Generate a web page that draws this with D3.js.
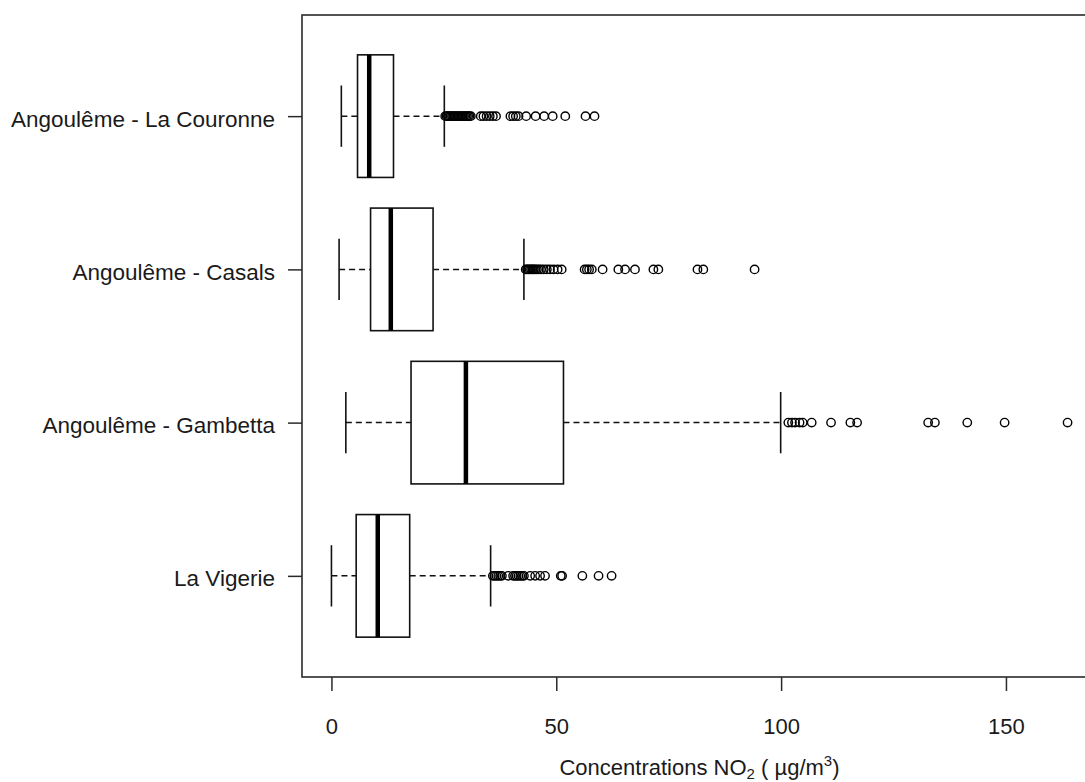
<!DOCTYPE html>
<html>
<head>
<meta charset="utf-8">
<script src="https://cdn.jsdelivr.net/npm/d3@7"></script>
<style>
  body { margin: 0; background: #fff; }
  text { font-family: "Liberation Sans", Arial, sans-serif; fill: #1a1a1a; }
</style>
</head>
<body>
<div id="chart"></div>
<script>
// Frame size and plot region (R style boxplot, right edge runs off the picture)
const FRAME_WIDTH = 1085;
const FRAME_HEIGHT = 782;
const PLOT = {left: 302, right: 1097, top: 15, bottom: 677};

// Stations, bottom to top
const STATIONS = ["La Vigerie", "Angoulême - Gambetta", "Angoulême - Casals", "Angoulême - La Couronne"];

// Five number summaries
const WHISK_LO = [0, 3.2, 1.7, 2.2];
const Q1 = [5.5, 17.7, 8.7, 5.8];
const MEDIAN = [10.3, 29.9, 13.2, 8.4];
const Q3 = [17.4, 51.6, 22.6, 13.8];
const WHISK_HI = [35.4, 99.9, 42.8, 25.1];

// Outliers for each station
const OUT_VIGERIE = [35.9, 36.3, 36.7, 37.1, 37.5, 37.9, 39.3, 40.4, 40.8, 41.2, 41.6, 42.0, 42.4, 42.8,
                     44.2, 45.3, 46.4, 47.5, 51.0, 51.3, 55.8, 59.4, 62.3];
const OUT_GAMBETTA = [101.6, 102.4, 103.1, 104.1, 104.8, 106.8, 111.1, 115.4, 116.9, 132.7, 134.2,
                      141.4, 149.7, 163.7];
const OUT_CASALS = [43.2, 43.5, 43.8, 44.1, 44.4, 44.7, 45.0, 45.3, 45.7, 46.1, 46.6, 47.2, 47.9, 48.6,
                    49.4, 50.3, 51.2, 56.3, 56.8, 57.3, 57.9, 60.3, 63.8, 65.3, 67.5, 71.6, 72.7,
                    81.4, 82.7, 94.1];
const OUT_COURONNE = [25.3, 25.6, 25.9, 26.2, 26.5, 26.8, 27.1, 27.4, 27.7, 28.0, 28.3, 28.6, 28.9,
                      29.2, 29.5, 29.8, 30.1, 30.4, 30.7, 31.0, 33.2, 33.8, 34.5, 35.2, 35.9, 36.6,
                      39.8, 40.4, 41.0, 41.6, 43.3, 45.4, 47.3, 49.2, 52.0, 56.5, 58.5];
const OUTLIERS = [OUT_VIGERIE, OUT_GAMBETTA, OUT_CASALS, OUT_COURONNE];

const X_TICKS = [0, 50, 100, 150];

// Build svg
const SVG = d3.select("#chart")
              .append("svg")
                .attr("width", FRAME_WIDTH)
                .attr("height", FRAME_HEIGHT);

// x range padded by 4% like R does
const allVals = WHISK_LO.concat(WHISK_HI, ...OUTLIERS);
const lo = d3.min(allVals), hi = d3.max(allVals);
const pad = (hi - lo) * 0.04;

const X_SCALE = d3.scaleLinear()
    .domain([lo - pad, hi + pad])
    .range([PLOT.left, PLOT.right]);

// boxes sit at 1..n, limits [0.5, n+0.5] padded by 4%
const n = STATIONS.length;
const yPad = n * 0.04;
const Y_SCALE = d3.scaleLinear()
    .domain([0.5 - yPad, n + 0.5 + yPad])
    .range([PLOT.bottom, PLOT.top]);

const half = Y_SCALE(0) - Y_SCALE(0.4);    // half box width
const cap = half / 2;                      // staple half width

// index list used to draw each box
const idx = d3.range(n);

const boxes = SVG.selectAll("g.box")
    .data(idx)
    .enter()
    .append("g")
      .attr("class", "box");

// dashed whiskers
boxes.append("line")
    .attr("x1", (i) => X_SCALE(WHISK_LO[i]))
    .attr("x2", (i) => X_SCALE(Q1[i]))
    .attr("y1", (i) => Y_SCALE(i + 1))
    .attr("y2", (i) => Y_SCALE(i + 1))
    .attr("stroke", "#111").attr("stroke-width", 1.5)
    .attr("stroke-dasharray", "6,4");

boxes.append("line")
    .attr("x1", (i) => X_SCALE(Q3[i]))
    .attr("x2", (i) => X_SCALE(WHISK_HI[i]))
    .attr("y1", (i) => Y_SCALE(i + 1))
    .attr("y2", (i) => Y_SCALE(i + 1))
    .attr("stroke", "#111").attr("stroke-width", 1.5)
    .attr("stroke-dasharray", "6,4");

// staples
[WHISK_LO, WHISK_HI].forEach((arr) => {
    boxes.append("line")
        .attr("x1", (i) => X_SCALE(arr[i]))
        .attr("x2", (i) => X_SCALE(arr[i]))
        .attr("y1", (i) => Y_SCALE(i + 1) - cap)
        .attr("y2", (i) => Y_SCALE(i + 1) + cap)
        .attr("stroke", "#111").attr("stroke-width", 1.6);
});

// the box itself
boxes.append("rect")
    .attr("x", (i) => X_SCALE(Q1[i]))
    .attr("width", (i) => X_SCALE(Q3[i]) - X_SCALE(Q1[i]))
    .attr("y", (i) => Y_SCALE(i + 1) - half)
    .attr("height", 2 * half)
    .attr("fill", "#fff")
    .attr("stroke", "#111").attr("stroke-width", 1.6);

// thick median
boxes.append("line")
    .attr("x1", (i) => X_SCALE(MEDIAN[i]))
    .attr("x2", (i) => X_SCALE(MEDIAN[i]))
    .attr("y1", (i) => Y_SCALE(i + 1) - half)
    .attr("y2", (i) => Y_SCALE(i + 1) + half)
    .attr("stroke", "#000").attr("stroke-width", 4.5);

// outlier circles
boxes.each(function(i) {
    d3.select(this).selectAll("circle")
        .data(OUTLIERS[i])
        .enter()
        .append("circle")
          .attr("cx", (d) => X_SCALE(d))
          .attr("cy", Y_SCALE(i + 1))
          .attr("r", 4.2)
          .attr("fill", "none")
          .attr("stroke", "#000")
          .attr("stroke-width", 1.4);
});

// plot frame
SVG.append("rect")
    .attr("x", PLOT.left).attr("y", PLOT.top)
    .attr("width", PLOT.right - PLOT.left)
    .attr("height", PLOT.bottom - PLOT.top)
    .attr("fill", "none")
    .attr("stroke", "#2a2a2a").attr("stroke-width", 1.6);

// x-axis
const xAxis = SVG.append("g")
    .attr("transform", "translate(0," + PLOT.bottom + ")")
    .call(d3.axisBottom(X_SCALE).tickValues(X_TICKS).tickSize(14).tickPadding(27));
xAxis.select(".domain").remove();
xAxis.selectAll(".tick line").attr("stroke", "#2a2a2a").attr("stroke-width", 1.5);
xAxis.selectAll(".tick text").attr("font-size", "22px").attr("fill", "#1a1a1a")
     .attr("font-family", "Liberation Sans, Arial, sans-serif");

// y-axis with station names
const Y_POS = d3.scaleOrdinal().domain(STATIONS).range(idx.map((i) => Y_SCALE(i + 1)));
const yAxis = SVG.append("g")
    .attr("transform", "translate(" + PLOT.left + ",0)")
    .call(d3.axisLeft(Y_POS).tickSize(14).tickPadding(13));
yAxis.select(".domain").remove();
yAxis.selectAll(".tick line").attr("stroke", "#2a2a2a").attr("stroke-width", 1.5);
yAxis.selectAll(".tick text").attr("font-size", "22.5px").attr("fill", "#1a1a1a")
     .attr("dy", "0.45em")
     .attr("font-family", "Liberation Sans, Arial, sans-serif");

// x-axis title
const title = SVG.append("text")
    .attr("x", (PLOT.left + PLOT.right) / 2)
    .attr("y", 775)
    .attr("text-anchor", "middle")
    .attr("font-size", "22px");
title.append("tspan").text("Concentrations NO");
title.append("tspan").attr("font-size", "15px").attr("dy", 4).text("2");
title.append("tspan").attr("dy", -4).text(" ( µg/m");
title.append("tspan").attr("font-size", "15px").attr("dy", -9).text("3");
title.append("tspan").attr("dy", 9).text(")");
</script>
</body>
</html>
